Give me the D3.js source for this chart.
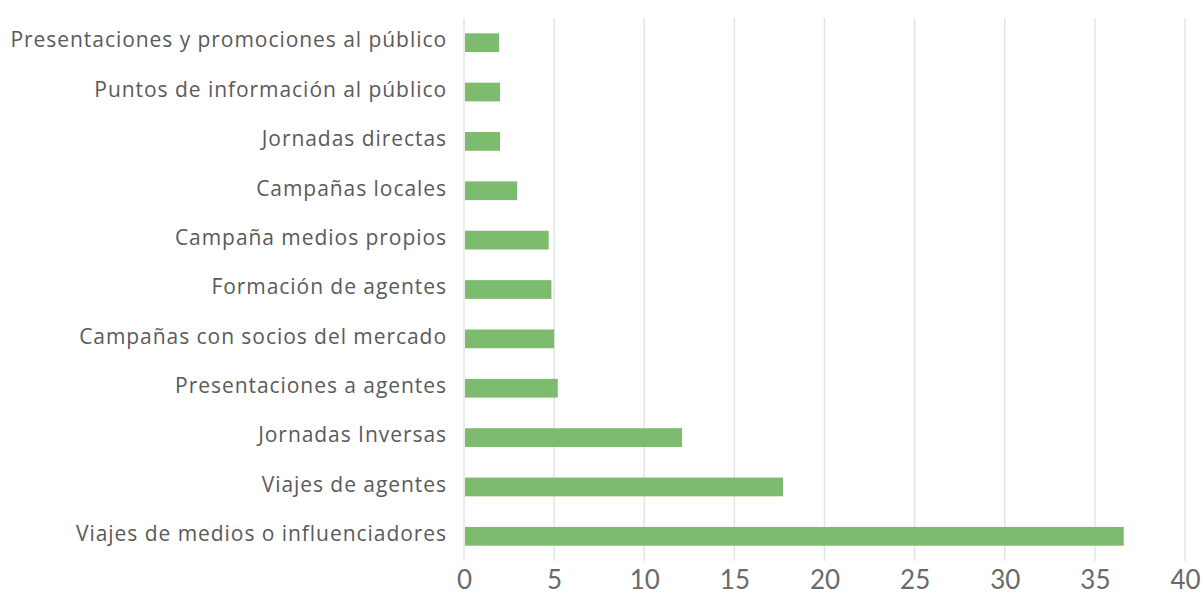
<!DOCTYPE html>
<html>
<head>
<meta charset="utf-8">
<script src="https://cdn.jsdelivr.net/npm/d3@7"></script>
<style>
  body { margin: 0; background: #fff; }
  .cat text { font-family: "Open Sans", Lato, sans-serif; font-size: 21px; letter-spacing: 0.95px; fill: #5a5a5a; }
  .xax text { font-family: Lato, "Open Sans", sans-serif; font-size: 26px; fill: #6a6a6a; }
  .grid line { stroke: #e4e4e4; stroke-width: 1.5; }
</style>
</head>
<body>
<svg id="chart"></svg>
<script>
// categories top to bottom
var categories = [
  "Presentaciones y promociones al público",
  "Puntos de información al público",
  "Jornadas directas",
  "Campañas locales",
  "Campaña medios propios",
  "Formación de agentes",
  "Campañas con socios del mercado",
  "Presentaciones a agentes",
  "Jornadas Inversas",
  "Viajes de agentes",
  "Viajes de medios o influenciadores"
];
var values = [1.95, 2, 2, 2.95, 4.7, 4.85, 5, 5.2, 12.1, 17.7, 36.6];
var xTicks = [0, 5, 10, 15, 20, 25, 30, 35, 40];

var width = 1204, height = 595;
var margin = {top: 18, right: 19, bottom: 34, left: 464};

var svg = d3.select("#chart")
    .attr("width", width)
    .attr("height", height);

var x = d3.scaleLinear().domain([0, 40]).range([margin.left, width - margin.right]);
var y = d3.scaleBand().domain(categories)
    .range([margin.top, height - margin.bottom])
    .paddingInner(0.62).paddingOuter(0.31);

// grid
svg.append("g").attr("class", "grid")
  .selectAll("line").data(xTicks).enter().append("line")
    .attr("x1", d => x(d)).attr("x2", d => x(d))
    .attr("y1", margin.top).attr("y2", height - margin.bottom);

// bars
svg.append("g").selectAll("rect").data(values).enter().append("rect")
    .attr("x", x(0) + 1)
    .attr("y", (d, i) => y(categories[i]))
    .attr("width", d => x(d) - x(0) - 1)
    .attr("height", y.bandwidth())
    .attr("fill", "#7dbb6f");

// category axis
var yAxis = svg.append("g").attr("class", "cat")
    .attr("transform", "translate(" + (margin.left - 17) + ",-2)")
    .call(d3.axisLeft(y).tickSize(0).tickPadding(0));
yAxis.select(".domain").remove();

// value axis
var xAxis = svg.append("g").attr("class", "xax")
    .attr("transform", "translate(0," + (height - margin.bottom) + ")")
    .call(d3.axisBottom(x).tickValues(xTicks).tickSize(0).tickPadding(10));
xAxis.select(".domain").remove();
</script>
</body>
</html>
